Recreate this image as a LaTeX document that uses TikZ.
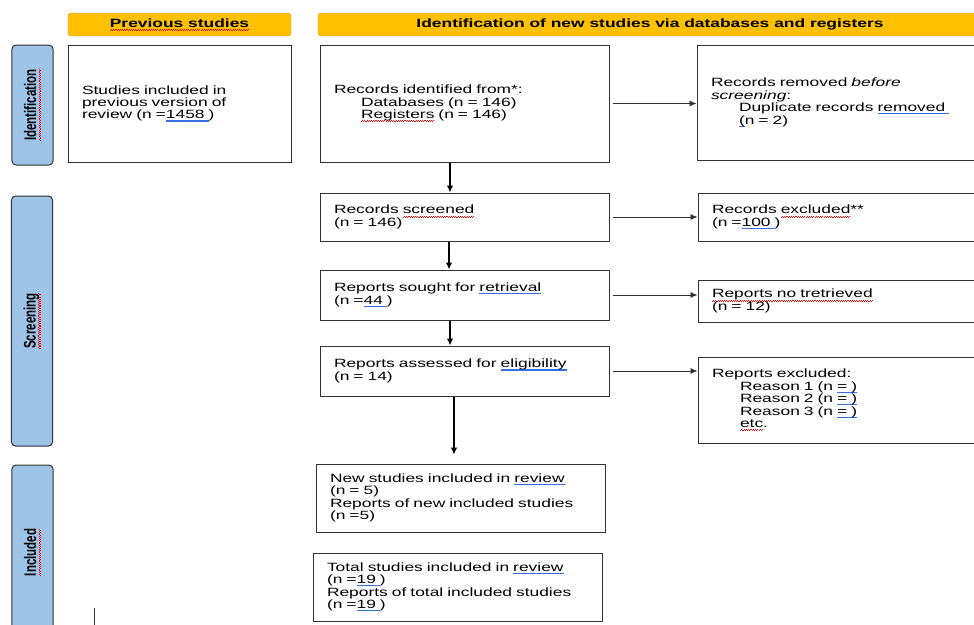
\documentclass[tikz,border=0pt]{standalone}
\usepackage{fontspec}
\setmainfont{Liberation Sans}[FakeStretch=1.45]
\newfontfamily\PhaseFont{Liberation Sans}
\usepackage{tikz}
\usetikzlibrary{arrows.meta}
\definecolor{PrismaColorHead}{RGB}{255,192,0}
\definecolor{PrismaColorPhase}{RGB}{157,195,230}
\definecolor{PrismaColorLine}{RGB}{50,50,50}
\definecolor{PrismaColorUl}{RGB}{55,110,225}
\newsavebox\UlBox
\newcommand\bul[1]{\sbox\UlBox{#1}\leavevmode\rlap{\textcolor{PrismaColorUl}{\rule[-2.6pt]{\wd\UlBox}{1.1pt}}}\usebox\UlBox}
\newcommand\rwav[1]{\sbox\UlBox{#1}\leavevmode\rlap{\textcolor{red}{\xleaders\hbox{\rule[-3.4pt]{1.1pt}{0.7pt}\rule[-2.5pt]{1.1pt}{0.7pt}}\hskip\wd\UlBox}}\usebox\UlBox}

\begin{document}
\begin{tikzpicture}[x=1pt,y=-1pt,
hdr/.style={fill=PrismaColorHead,draw=PrismaColorHead!85!black,rounded corners=3pt,minimum height=23pt,inner sep=0pt,font=\fontsize{12}{14}\selectfont\bfseries},
phase/.style n args={2}{fill=PrismaColorPhase,draw=PrismaColorLine,line width=1pt,rounded corners=4pt,xscale=1.45,rotate=90,minimum width=#1,minimum height=#2,inner sep=0pt,font=\PhaseFont\fontsize{11.5}{14}\selectfont\bfseries},
box/.style n args={2}{draw=PrismaColorLine,line width=1pt,align=left,inner xsep=14pt,inner ysep=0pt,text width=#1,minimum height=#2,font=\fontsize{12}{12.4}\selectfont},
varr/.style={-{Latex[length=7pt,width=6.5pt]},line width=1.2pt,black},
harr/.style={-{Latex[length=7pt,width=6pt]},line width=0.8pt,PrismaColorLine,shorten <=3pt}]
\useasboundingbox (0,0) rectangle (974,624);
\clip (0,0) rectangle (974,624);

\node[hdr,minimum width=223pt] (hPrev) at (179.5,24.5) {\rwav{Previous studies}};
\node[hdr,minimum width=664pt] (hNew) at (650,24.5) {Identification of new studies via databases and registers};

\node[phase={120pt}{28.3pt}] (pIdent) at (32.5,105) {\rwav{Identification}};
\node[phase={250pt}{28.3pt}] (pScreen) at (32,321) {\rwav{Screening}};
\node[phase={175pt}{28.3pt}] (pIncl) at (32.5,552.5) {\rwav{Included}};

\node[box={195pt}{117pt}] (prev) at (179.5,103.5) {Studies included in\\previous version of\\review (n =\bul{1458 })};
\node[box={261pt}{117pt}] (ident) at (464.5,103.5) {Records identified from*:\\\hspace*{27pt}Databases (n = 146)\\\hspace*{27pt}\rwav{Registers} (n = 146)};
\node[box={262pt}{115pt}] (removed) at (842,102.5) {Records removed \textit{before}\\\textit{screening}:\\\hspace*{28pt}Duplicate records \bul{removed }\\\hspace*{28pt}\bul{(}n = 2)};
\node[box={261pt}{48pt}] (screened) at (464.5,217) {Records \rwav{screened}\\(n = 146)};
\node[box={262pt}{48pt}] (excluded) at (843,217) {Records \rwav{excluded}**\\(n =\bul{100 })};
\node[box={261pt}{50pt}] (sought) at (464.5,295) {Reports sought for \bul{retrieval}\\(n =\bul{44 })};
\node[box={262pt}{42pt}] (notret) at (843,301) {\rwav{Reports no tretrieved}\\(n = 12)};
\node[box={261pt}{50pt}] (assessed) at (464.5,371) {Reports assessed for \bul{eligibility}\\(n = 14)};
\node[box={262pt}{86pt}] (rexcl) at (843,400) {Reports excluded:\\\hspace*{28pt}Reason 1 (n \bul{= )}\\\hspace*{28pt}Reason 2 (n \bul{= )}\\\hspace*{28pt}Reason 3 (n \bul{= )}\\\hspace*{28pt}\rwav{etc}.};
\node[box={261pt}{68pt}] (newinc) at (460.5,498) {New studies included in \bul{review}\\(n = 5)\\Reports of new included studies\\(n =5)};
\node[box={261pt}{68pt}] (total) at (457.5,587) {Total studies included in \bul{review}\\(n =\bul{19 })\\Reports of total included studies\\(n =\bul{19 })};

\foreach \a/\b/\s in {ident/screened/-14.5,screened/sought/-15.5,sought/assessed/-14.5}
   \draw[varr] ([xshift=\s pt]\a.south) -- ([xshift=\s pt]\b.north);
\draw[varr,shorten >=9pt] ([xshift=-10.5pt]assessed.south) -- ([xshift=-6.5pt]newinc.north);

\foreach \a/\b in {ident/removed,screened/excluded,sought/notret,assessed/rexcl}
   \draw[harr] (\a.east) -- (\a.east -| \b.west);

\coordinate (stubTop) at (94,608);
\coordinate (stubEnd) at (94,630);
\draw[line width=1pt,PrismaColorLine] (stubTop) -- (stubEnd);
\end{tikzpicture}
\end{document}
